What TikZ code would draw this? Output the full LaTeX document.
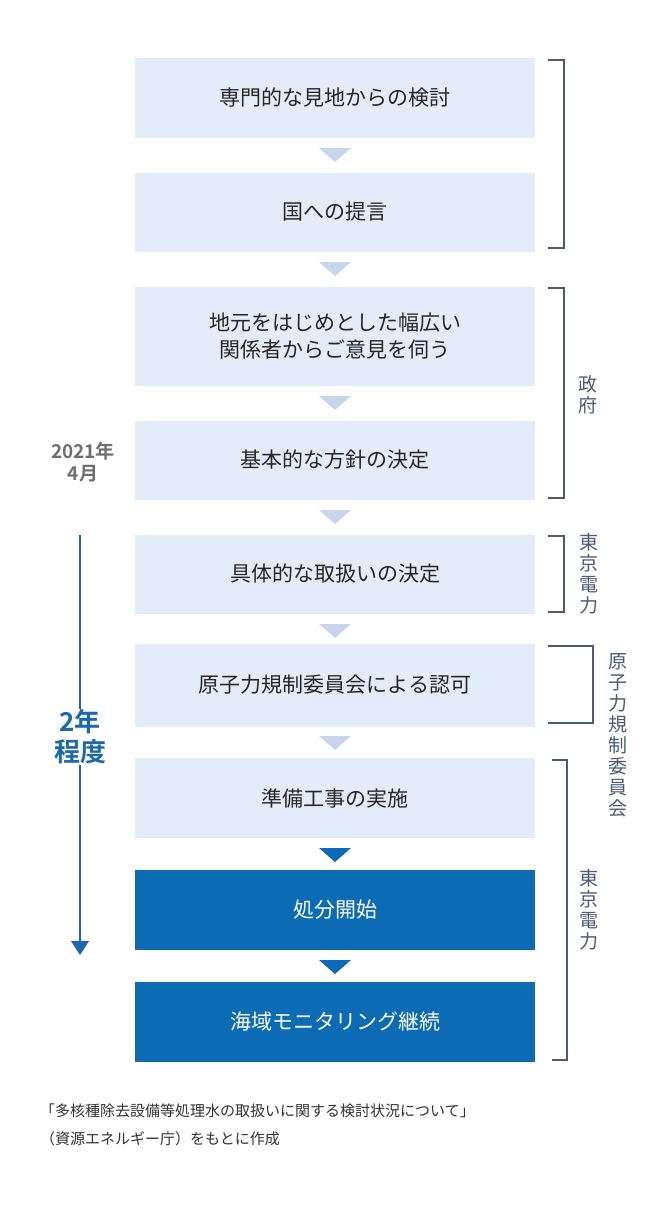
\documentclass[tikz,border=0pt]{standalone}
\usepackage{fontspec}
\setmainfont{Noto Sans CJK JP}
\newfontfamily\jpb{Noto Sans CJK JP Bold}
\definecolor{lightbox}{HTML}{E4ECF9}
\definecolor{lighttri}{HTML}{C8D5EC}
\definecolor{darkbox}{HTML}{0B6CB5}
\definecolor{brk}{HTML}{4B5A76}
\definecolor{blueA}{HTML}{1A69AC}
\definecolor{greyA}{HTML}{6E6E6E}
\begin{document}
\begin{tikzpicture}[x=1pt,y=-1pt,
  lbox/.style={fill=lightbox,minimum width=400pt,inner sep=0pt,align=center,font=\fontsize{21}{27}\selectfont,text=black!85},
  dbox/.style={fill=darkbox,minimum width=400pt,minimum height=80pt,inner sep=0pt,align=center,font=\fontsize{21}{27}\selectfont,text=white},
  ltri/.style={fill=lighttri},
  dtri/.style={fill=darkbox},
  brkline/.style={draw=brk,line width=1.5pt},
  vlab/.style={text=brk,font=\fontsize{19}{21}\selectfont,align=center,inner sep=0pt}]
\useasboundingbox (0,0) rectangle (670,1207);
\fill[white] (0,0) rectangle (670,1207);
\node[lbox,minimum height=79pt] (b1) at (335,98) {専門的な見地からの検討};
\node[lbox,minimum height=79pt] (b2) at (335,212) {国への提言};
\node[lbox,minimum height=99pt] (b3) at (335,336) {地元をはじめとした幅広い\\関係者からご意見を伺う};
\node[lbox,minimum height=79pt] (b4) at (335,460) {基本的な方針の決定};
\node[lbox,minimum height=79pt] (b5) at (335,574) {具体的な取扱いの決定};
\node[lbox,minimum height=83pt] (b6) at (335,685) {原子力規制委員会による認可};
\node[lbox,minimum height=80pt] (b7) at (335,798) {準備工事の実施};
\node[dbox] (b8) at (335,910) {処分開始};
\node[dbox] (b9) at (335,1022) {海域モニタリング継続};
\foreach \y in {148,262,396,510,624,736}{\fill[ltri] (319,\y) -- (351,\y) -- (335,\y+14) -- cycle;}
\foreach \y in {848,960}{\fill[dtri] (319,\y) -- (351,\y) -- (335,\y+14) -- cycle;}
% brackets
\draw[brkline] (548,60) -- (564,60) -- (564,248) -- (548,248);
\draw[brkline] (548,288) -- (564,288) -- (564,498) -- (548,498);
\node[vlab] (g1) at (588,395) {政\\府};
\draw[brkline] (548,536) -- (564,536) -- (564,612) -- (548,612);
\node[vlab] (t1) at (589,574) {東\\京\\電\\力};
\draw[brkline] (548,646) -- (593,646) -- (593,723) -- (548,723);
\node[vlab] (r1) at (618,735) {原\\子\\力\\規\\制\\委\\員\\会};
\draw[brkline] (552,760) -- (567,760) -- (567,1060) -- (552,1060);
\node[vlab] (t2) at (589,910) {東\\京\\電\\力};
% left
\node[text=greyA,font=\jpb\fontsize{19}{22}\selectfont,align=center,inner sep=0pt] (d1) at (83,462) {2021年\\4月};
\node[text=blueA,font=\jpb\fontsize{26}{30}\selectfont,align=center,inner sep=0pt] (y2) at (80,737) {2年\\程度};
\coordinate (a0) at (80,535);
\coordinate (a1) at (80,955);
\draw[blueA,line width=1.5pt] (a0) -- (y2.north);
\draw[blueA,line width=1.5pt] (y2.south) -- (80,942);
\fill[blueA] (71,941) -- (89,941) -- (80,955) -- cycle;
% footer
\node[anchor=west,inner sep=0pt,font=\fontsize{15}{18}\selectfont,text=black!80] (f1) at (40,1111) {「多核種除去設備等処理水の取扱いに関する検討状況について」};
\node[anchor=west,inner sep=0pt,font=\fontsize{15}{18}\selectfont,text=black!80] (f2) at (40,1139) {（資源エネルギー庁）をもとに作成};
\end{tikzpicture}
\end{document}
